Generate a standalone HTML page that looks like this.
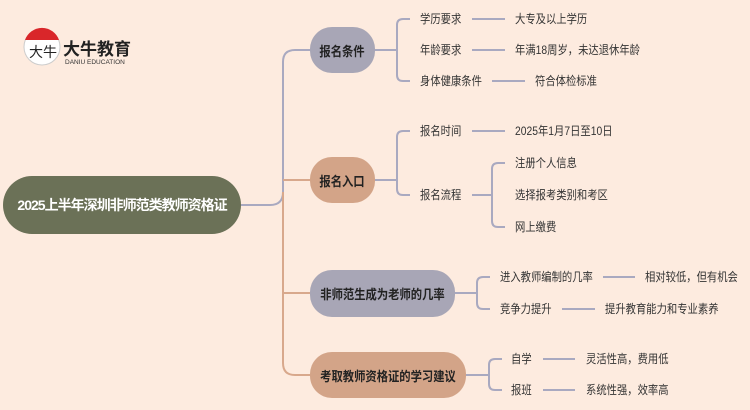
<!DOCTYPE html>
<html><head><meta charset="utf-8"><style>
body{margin:0;width:750px;height:410px;background:#fdebdf;overflow:hidden;font-family:"Liberation Sans","Noto Sans CJK SC",sans-serif}
svg{position:absolute;left:0;top:0}
.n{position:absolute;border-radius:22px;display:flex;align-items:center;justify-content:center;font-weight:bold;color:#222;font-size:13px;white-space:nowrap}
.n span{display:inline-block;transform:scaleX(.87)}
.t{position:absolute;font-size:12px;color:#333;line-height:16px;white-space:nowrap;transform:scaleX(.86);transform-origin:left center}
</style></head><body>
<svg width="750" height="410">
<g fill="none" stroke-width="2">
<path d="M241 205 H270 Q283 205 283 192 V62 Q283 50 295 50 H310" stroke="#a9a9c0"/>
<path d="M283 192 V363 Q283 375 295 375 H310 M283 180 H310 M283 293 H310" stroke="#d8a88c"/>
<g stroke="#a9a9c0">
<path d="M375 50 H397 M410 19 H403 Q397 19 397 25 V75 Q397 81 403 81 H410"/>
<path d="M472 19 H505 M472 50 H505 M492 81 H525"/>
<path d="M375 180 H397 M410 131 H403 Q397 131 397 137 V189 Q397 195 403 195 H410"/>
<path d="M472 131 H505 M472 195 H492 M505 163 H498 Q492 163 492 169 V221 Q492 227 498 227 H505"/>
<path d="M455 293 H477 M490 277 H483 Q477 277 477 283 V303 Q477 309 483 309 H490"/>
<path d="M603 277 H635 M562 309 H595"/>
<path d="M466 375 H489 M502 359 H495 Q489 359 489 365 V384 Q489 390 495 390 H502"/>
<path d="M543 359 H575 M543 390 H575"/>
</g></g>
<circle cx="42" cy="47" r="18" fill="#fff" stroke="#ccc"/>
<path d="M25 40 A18 18 0 0 1 59 40 Z" fill="#d9262a"/>
<text x="29" y="57" font-size="14" font-family="Noto Sans CJK SC" fill="#222">大牛</text>
<text x="63" y="55" font-size="17" font-weight="bold" font-family="Noto Sans CJK SC" fill="#222">大牛教育</text>
<text x="65" y="64" font-size="6.5" font-family="Liberation Sans" fill="#333">DANIU EDUCATION</text>
</svg>
<div class="n" style="left:3px;top:176px;width:238px;height:58px;border-radius:29px;background:#6b7157;color:#fff;font-size:14px;letter-spacing:-1px">2025上半年深圳非师范类教师资格证</div>
<div class="n" style="left:310px;top:27px;width:65px;height:46px;background:#a8a6b6"><span>报名条件</span></div>
<div class="n" style="left:310px;top:157px;width:65px;height:46px;background:#d3a488"><span>报名入口</span></div>
<div class="n" style="left:310px;top:270px;width:145px;height:47px;background:#a8a6b6"><span>非师范生成为老师的几率</span></div>
<div class="n" style="left:310px;top:352px;width:156px;height:46px;background:#d3a488"><span>考取教师资格证的学习建议</span></div>
<div class="t" style="left:420px;top:11px">学历要求</div><div class="t" style="left:515px;top:11px">大专及以上学历</div>
<div class="t" style="left:420px;top:42px">年龄要求</div><div class="t" style="left:515px;top:42px">年满18周岁，未达退休年龄</div>
<div class="t" style="left:420px;top:73px">身体健康条件</div><div class="t" style="left:535px;top:73px">符合体检标准</div>
<div class="t" style="left:420px;top:123px">报名时间</div><div class="t" style="left:515px;top:123px">2025年1月7日至10日</div>
<div class="t" style="left:420px;top:187px">报名流程</div>
<div class="t" style="left:515px;top:155px">注册个人信息</div>
<div class="t" style="left:515px;top:187px">选择报考类别和考区</div>
<div class="t" style="left:515px;top:219px">网上缴费</div>
<div class="t" style="left:500px;top:269px">进入教师编制的几率</div><div class="t" style="left:645px;top:269px">相对较低，但有机会</div>
<div class="t" style="left:500px;top:301px">竞争力提升</div><div class="t" style="left:605px;top:301px">提升教育能力和专业素养</div>
<div class="t" style="left:511px;top:351px">自学</div><div class="t" style="left:586px;top:351px">灵活性高，费用低</div>
<div class="t" style="left:511px;top:382px">报班</div><div class="t" style="left:586px;top:382px">系统性强，效率高</div>
</body></html>
